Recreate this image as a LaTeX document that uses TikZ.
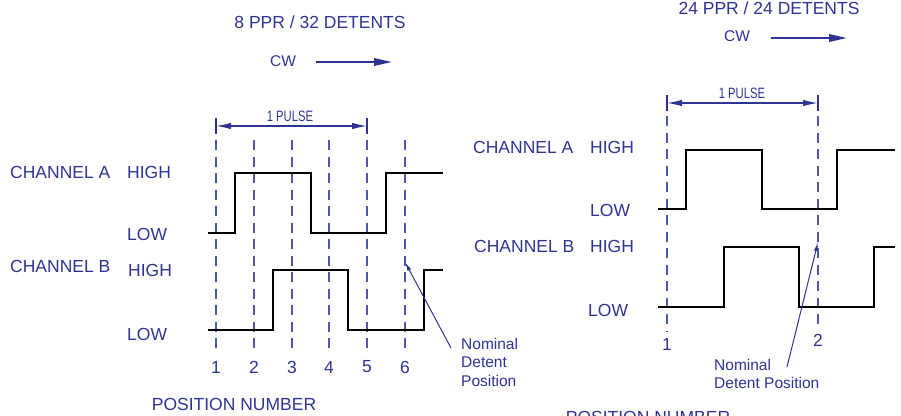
\documentclass[tikz,border=0pt]{standalone}
\usepackage{fontspec}
\setmainfont{Liberation Sans}
\usetikzlibrary{arrows.meta}
\definecolor{inkblue}{RGB}{46,52,148}
\definecolor{dashblue}{RGB}{78,88,170}
\tikzset{
  txt/.style={text=inkblue,inner sep=0pt,font=\fontsize{17.5}{21}\selectfont},
  small/.style={text=inkblue,inner sep=0pt,font=\fontsize{15.5}{18.5}\selectfont,align=left},
  pulse/.style={text=inkblue,inner sep=0pt,font=\fontsize{15}{17}\selectfont,xscale=0.75},
  wave/.style={black,line width=2.7pt,line join=miter},
  detent/.style={dashblue,line width=1.2pt,dash pattern=on 10pt off 6.5pt},
  dim/.style={inkblue,line width=1.3pt,{Latex[length=15pt,width=6.5pt]}-{Latex[length=15pt,width=6.5pt]}},
  tick/.style={inkblue,line width=1.3pt},
  cw/.style={inkblue,line width=1.7pt,-{Triangle[length=18pt,width=7.5pt]}},
  pointer/.style={inkblue,line width=1pt,-{Latex[length=9pt,width=4pt]}}
}
\begin{document}
\begin{tikzpicture}[x=1pt,y=-1pt]
\useasboundingbox (0,0) rectangle (901,415);

% left: 8 PPR / 32 detents
\node(titleL) at (320,22)[txt]       {8 PPR / 32 DETENTS};
\node(cwL) at (283,61)[txt,font=\fontsize{15.5}{18}\selectfont] {CW};
\coordinate(cwLa) at (316,62);
\coordinate(cwLb) at (392,62);
\draw[cw] (cwLa) -- (cwLb);

\node(pulseL) at (290,116)[pulse]    {1 PULSE};
\coordinate(pL1) at (216,126);
\coordinate(pL2) at (367,126);
\draw[dim] (pL1) -- (pL2);
\draw[tick] (216,118) -- (216,134);
\draw[tick] (367,118) -- (367,134);

\foreach \n/\x in {1/216,2/254,3/292,4/329,5/367,6/405}{
  \draw[detent] (\x,140) -- (\x,352);
  \node(numL\n) at (\x,367)[txt] {\n};
}

\node(chAL) at (10,172)[txt,anchor=west]   {CHANNEL A};
\node(hiAL) at (127,172)[txt,anchor=west]  {HIGH};
\node(loAL) at (127,234)[txt,anchor=west]  {LOW};
\node(chBL) at (10,266)[txt,anchor=west]   {CHANNEL B};
\node(hiBL) at (128,270)[txt,anchor=west]  {HIGH};
\node(loBL) at (127,334)[txt,anchor=west]  {LOW};

\draw[wave] (208,233) -- (235,233) -- (235,173) -- (311,173) -- (311,233)
  -- (386,233) -- (386,173) -- (443,173);
\draw[wave] (208,330) -- (273,330) -- (273,270) -- (348,270) -- (348,330)
  -- (424,330) -- (424,270) -- (443,270);

\node(nomL) at (461,362)[small,anchor=west] {Nominal\\Detent\\Position};
\coordinate(nomLa) at (451,348);
\coordinate(nomLb) at (405,262);
\draw[pointer] (nomLa) -- (nomLb);

\node(posL) at (234,404)[txt]        {POSITION NUMBER};

% right: 24 PPR / 24 detents
\node(titleR) at (769,8)[txt]        {24 PPR / 24 DETENTS};
\node(cwR) at (737,36)[txt,font=\fontsize{15.5}{18}\selectfont] {CW};
\coordinate(cwRa) at (771,38);
\coordinate(cwRb) at (847,38);
\draw[cw] (cwRa) -- (cwRb);

\node(pulseR) at (742,93)[pulse]     {1 PULSE};
\coordinate(pR1) at (667,103);
\coordinate(pR2) at (818,103);
\draw[dim] (pR1) -- (pR2);
\draw[tick] (667,95) -- (667,111);
\draw[tick] (818,95) -- (818,111);

\draw[detent] (667,116) -- (667,332);
\draw[detent] (818,116) -- (818,330);
\node(numR1) at (667,344)[txt] {1};
\node(numR2) at (818,340)[txt] {2};

\node(chAR) at (473,147)[txt,anchor=west]  {CHANNEL A};
\node(hiAR) at (590,147)[txt,anchor=west]  {HIGH};
\node(loAR) at (590,210)[txt,anchor=west]  {LOW};
\node(chBR) at (474,246)[txt,anchor=west]  {CHANNEL B};
\node(hiBR) at (590,246)[txt,anchor=west]  {HIGH};
\node(loBR) at (588,310)[txt,anchor=west]  {LOW};

\draw[wave] (658,209) -- (686,209) -- (686,150) -- (762,150) -- (762,209)
  -- (837,209) -- (837,150) -- (895,150);
\draw[wave] (658,307) -- (724,307) -- (724,247) -- (799,247) -- (799,307)
  -- (874,307) -- (874,247) -- (895,247);

\node(nomR) at (714,374)[small,anchor=west] {Nominal\\Detent Position};
\coordinate(nomRa) at (787,367);
\coordinate(nomRb) at (818,242);
\draw[pointer] (nomRa) -- (nomRb);

\node(posR) at (648,417)[txt]        {POSITION NUMBER};

\end{tikzpicture}
\end{document}
